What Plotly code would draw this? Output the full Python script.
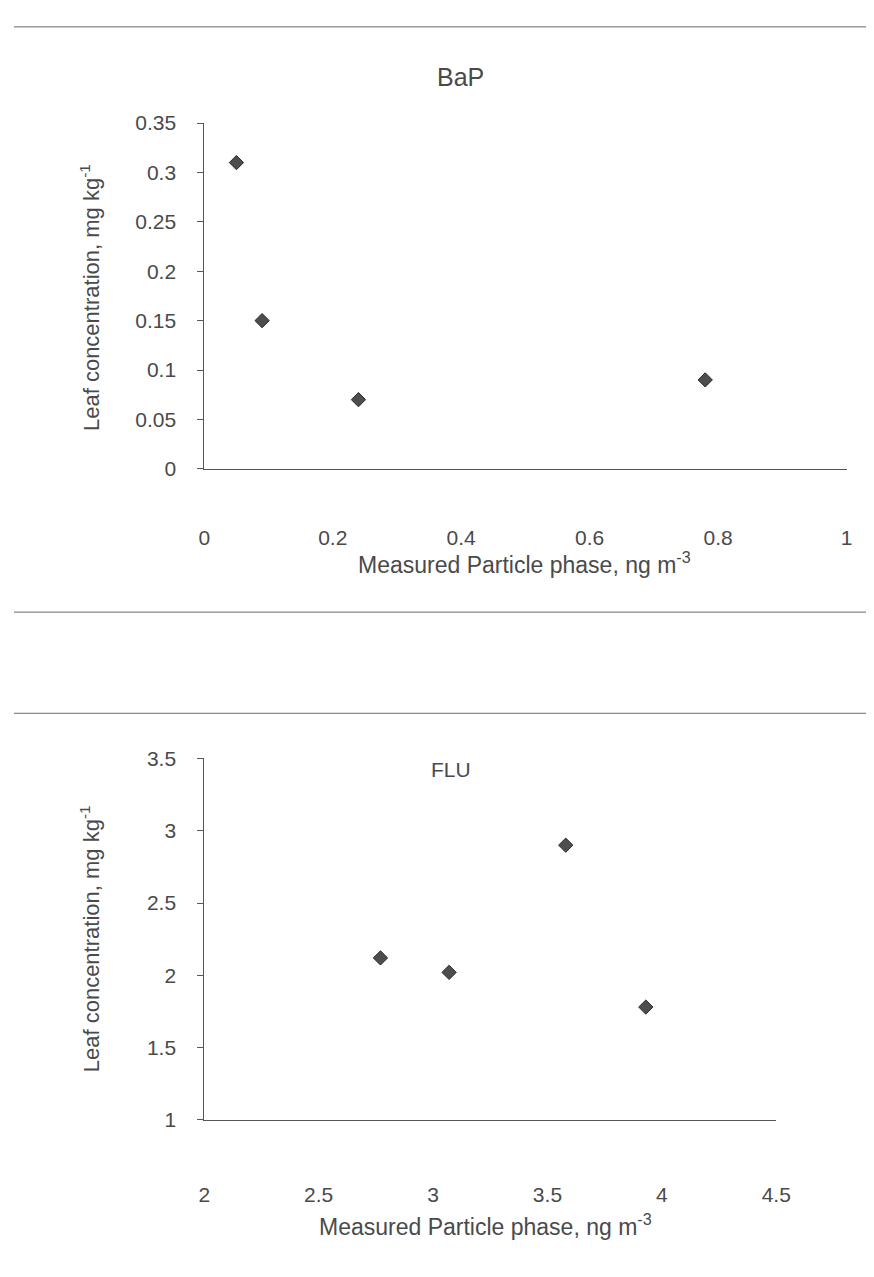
import plotly.graph_objects as go

W, H = 874, 1277

# Data
bap_x = [0.05, 0.09, 0.24, 0.78]
bap_y = [0.31, 0.15, 0.07, 0.09]
flu_x = [2.77, 3.07, 3.58, 3.93]
flu_y = [2.12, 2.02, 2.9, 1.78]

bap_yticks = [0, 0.05, 0.1, 0.15, 0.2, 0.25, 0.3, 0.35]
bap_ylabels = ["0", "0.05", "0.1", "0.15", "0.2", "0.25", "0.3", "0.35"]
bap_xticks = [0, 0.2, 0.4, 0.6, 0.8, 1]
bap_xlabels = ["0", "0.2", "0.4", "0.6", "0.8", "1"]
flu_yticks = [1, 1.5, 2, 2.5, 3, 3.5]
flu_ylabels = ["1", "1.5", "2", "2.5", "3", "3.5"]
flu_xticks = [2, 2.5, 3, 3.5, 4, 4.5]
flu_xlabels = ["2", "2.5", "3", "3.5", "4", "4.5"]

FONT = "Liberation Sans, Arial, sans-serif"
TXT = "#4a4a4a"
AX = "#555555"


def px(x):
    return x / W


def py(y):
    return 1 - y / H


fig = go.Figure()
for xs, ys, xa, ya in [(bap_x, bap_y, "x", "y"), (flu_x, flu_y, "x2", "y2")]:
    fig.add_trace(go.Scatter(x=xs, y=ys, mode="markers", xaxis=xa, yaxis=ya,
                             marker=dict(symbol="diamond", size=11, color="#4d4d4d",
                                         line=dict(color="#2a2a2a", width=1)),
                             showlegend=False))

xcommon = dict(showline=True, linecolor=AX, linewidth=1, showgrid=False, zeroline=False,
               ticks="", tickfont=dict(family=FONT, size=21, color=TXT))
ycommon = dict(showline=True, linecolor=AX, linewidth=1, showgrid=False, zeroline=False,
               ticks="outside", ticklen=6, tickcolor=AX,
               tickfont=dict(family=FONT, size=21, color=TXT), ticklabelstandoff=17)

fig.update_layout(
    width=W, height=H, margin=dict(l=0, r=0, t=0, b=0),
    paper_bgcolor="white", plot_bgcolor="rgba(0,0,0,0)",
    xaxis=dict(domain=[px(195), px(853)], range=[0, 1], tickvals=bap_xticks,
               ticktext=bap_xlabels, anchor="y", ticklabelstandoff=50, **xcommon),
    yaxis=dict(domain=[py(457), py(105)], range=[0, 0.35], tickvals=bap_yticks,
               ticktext=bap_ylabels, anchor="x", **ycommon),
    xaxis2=dict(domain=[px(195), px(781)], range=[2, 4.5], tickvals=flu_xticks,
                ticktext=flu_xlabels, anchor="y2", ticklabelstandoff=56, **xcommon),
    yaxis2=dict(domain=[py(1120), py(752)], range=[1, 3.5], tickvals=flu_yticks,
                ticktext=flu_ylabels, anchor="x2", **ycommon),
)

anns = [
    dict(text="BaP", x=px(458), y=py(58), size=25, xa="center"),
    dict(text="FLU", x=px(448), y=py(763), size=21, xa="center"),
    dict(text="Measured Particle phase, ng m<sup>-3</sup>", x=px(350), y=py(553), size=23, xa="left"),
    dict(text="Measured Particle phase, ng m<sup>-3</sup>", x=px(310), y=py(1227), size=23, xa="left"),
]
for a in anns:
    fig.add_annotation(text=a["text"], x=a["x"], y=a["y"], xref="paper", yref="paper",
                       showarrow=False, xanchor=a["xa"], yanchor="middle",
                       font=dict(family=FONT, size=a["size"], color=TXT))

for cy in [283, 936]:
    fig.add_annotation(text="Leaf concentration, mg kg<sup>-1</sup>", x=px(78), y=py(cy),
                       xref="paper", yref="paper", showarrow=False, textangle=-90,
                       xanchor="center", yanchor="middle",
                       font=dict(family=FONT, size=22, color=TXT))

for ly in [7, 603, 706]:
    fig.add_shape(type="line", xref="paper", yref="paper", x0=0, x1=1, y0=py(ly), y1=py(ly),
                  line=dict(color="#6a6a6a", width=1))

fig.write_html("out.html")
